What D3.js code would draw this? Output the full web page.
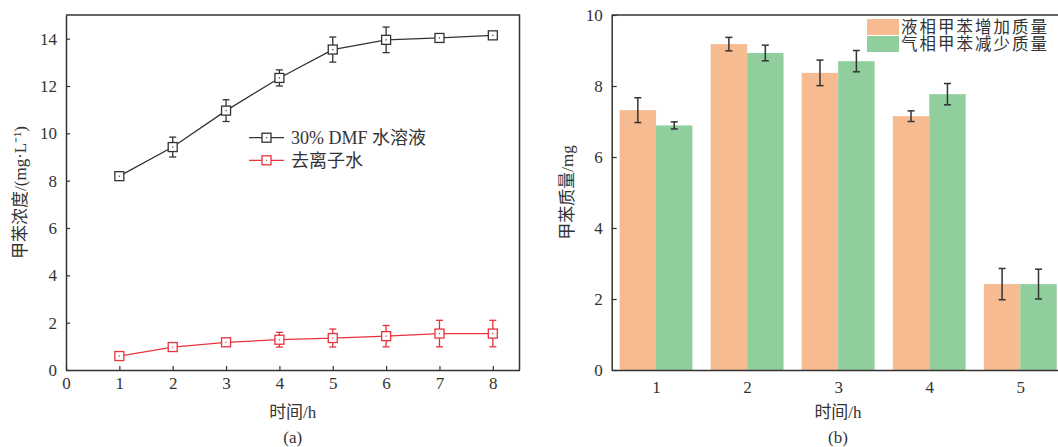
<!DOCTYPE html>
<html>
  <head>
    <meta charset="utf-8" />
    <script src="https://d3js.org/d3.v7.min.js"></script>
    <style>
      body { margin: 0; background: #fff; }
      text { font-family: "Liberation Serif", "Noto Sans CJK SC", serif; fill: #333; }
      .cjk { font-family: "Liberation Serif", "Noto Sans CJK SC", sans-serif; }
    </style>
  </head>
  <body>
    <div id="chart"></div>
    <script>
      // panel (a): toluene concentration over time
      const hoursA = [1, 2, 3, 4, 5, 6, 7, 8];
      const dmf = [8.19, 9.42, 10.96, 12.34, 13.54, 13.95, 14.03, 14.14];
      const dmfErr = [0.1, 0.42, 0.46, 0.34, 0.53, 0.54, 0.08, 0.08];
      const water = [0.59, 0.97, 1.17, 1.28, 1.35, 1.43, 1.54, 1.54];
      const waterErr = [0.08, 0.08, 0.1, 0.31, 0.38, 0.45, 0.56, 0.56];
      const xTicksA = [0, 1, 2, 3, 4, 5, 6, 7, 8];
      const yTicksA = [0, 2, 4, 6, 8, 10, 12, 14];
      const seriesNames = ["30% DMF 水溶液", "去离子水"];

      // panel (b): toluene mass
      const groups = [1, 2, 3, 4, 5];
      const liquidGain = [7.32, 9.18, 8.37, 7.15, 2.42];
      const liquidErr = [0.35, 0.19, 0.36, 0.15, 0.44];
      const gasLoss = [6.89, 8.93, 8.7, 7.77, 2.42];
      const gasErr = [0.1, 0.22, 0.3, 0.3, 0.42];
      const yTicksB = [0, 2, 4, 6, 8, 10];
      const barNames = ["液相甲苯增加质量", "气相甲苯减少质量"];

      const W = 1058, H = 447;
      const axisColor = "#333";
      const black = "#333", red = "#e8333b";
      const orange = "#f6bb91", green = "#91ce9d";

      const svg = d3.select("#chart").append("svg")
        .attr("width", W).attr("height", H);

      // ---------- panel (a) ----------
      const a = { left: 66, top: 15, right: 519.5, bottom: 370 };
      const xA = d3.scaleLinear().domain([0, 8.5]).range([a.left, a.right]);
      const yA = d3.scaleLinear().domain([0, 15]).range([a.bottom, a.top]);

      const gA = svg.append("g");

      gA.append("g")
        .attr("transform", `translate(0,${a.bottom})`)
        .call(d3.axisBottom(xA).tickValues(xTicksA).tickSizeInner(-4).tickSizeOuter(0).tickPadding(7))
        .call(styleAxis);
      gA.append("g")
        .attr("transform", `translate(${a.left},0)`)
        .call(d3.axisLeft(yA).tickValues(yTicksA).tickSizeInner(-4).tickSizeOuter(0).tickPadding(9))
        .call(styleAxis);

      // frame top + right
      gA.append("path")
        .attr("d", `M${a.left},${a.top}H${a.right}V${a.bottom}`)
        .attr("fill", "none").attr("stroke", axisColor).attr("stroke-width", 1.5);

      const seriesA = [
        { values: dmf, err: dmfErr, color: black },
        { values: water, err: waterErr, color: red },
      ];

      seriesA.forEach((s) => {
        const pts = hoursA.map((h, i) => ({ h, v: s.values[i], e: s.err[i] }));
        const g = gA.append("g");
        g.append("path")
          .datum(pts)
          .attr("fill", "none")
          .attr("stroke", s.color)
          .attr("stroke-width", 1.3)
          .attr("d", d3.line().x((d) => xA(d.h)).y((d) => yA(d.v)));

        const eb = g.selectAll(".eb").data(pts).join("g").attr("class", "eb")
          .attr("stroke", s.color).attr("stroke-width", 1.3);
        eb.append("line")
          .attr("x1", (d) => xA(d.h)).attr("x2", (d) => xA(d.h))
          .attr("y1", (d) => yA(d.v - d.e)).attr("y2", (d) => yA(d.v + d.e));
        eb.append("line")
          .attr("x1", (d) => xA(d.h) - 3.5).attr("x2", (d) => xA(d.h) + 3.5)
          .attr("y1", (d) => yA(d.v + d.e)).attr("y2", (d) => yA(d.v + d.e));
        eb.append("line")
          .attr("x1", (d) => xA(d.h) - 3.5).attr("x2", (d) => xA(d.h) + 3.5)
          .attr("y1", (d) => yA(d.v - d.e)).attr("y2", (d) => yA(d.v - d.e));

        g.selectAll(".mk").data(pts).join("g").attr("class", "mk")
          .each(function (d) {
            marker(d3.select(this), xA(d.h), yA(d.v), s.color);
          });
      });

      // legend (a)
      seriesA.forEach((s, i) => {
        const ly = 137.7 + i * 22.6;
        const lg = gA.append("g");
        lg.append("line")
          .attr("x1", 249).attr("x2", 284).attr("y1", ly).attr("y2", ly)
          .attr("stroke", s.color).attr("stroke-width", 1.3);
        marker(lg, 266.5, ly, s.color);
        lg.append("text")
          .attr("class", "cjk")
          .attr("x", 291).attr("y", ly).attr("dy", "0.35em")
          .style("font-size", "18px")
          .text(seriesNames[i]);
      });

      gA.append("text")
        .attr("class", "cjk")
        .attr("x", (a.left + a.right) / 2).attr("y", 418)
        .attr("text-anchor", "middle").style("font-size", "17px")
        .text("时间/h");
      gA.append("text")
        .attr("x", (a.left + a.right) / 2).attr("y", 443)
        .attr("text-anchor", "middle").style("font-size", "17px")
        .text("(a)");
      gA.append("text")
        .attr("class", "cjk")
        .attr("transform", `translate(26,${(a.top + a.bottom) / 2}) rotate(-90)`)
        .attr("text-anchor", "middle").style("font-size", "17px")
        .text("甲苯浓度/(mg·L⁻¹)");

      // ---------- panel (b) ----------
      const b = { left: 611.7, top: 15, right: 1058, bottom: 370 };
      const xB = d3.scaleLinear().domain([0.513, 5.414]).range([b.left, b.right]);
      const yB = d3.scaleLinear().domain([0, 10]).range([b.bottom, b.top]);
      const barW = 0.4;

      const gB = svg.append("g");

      const seriesB = [
        { values: liquidGain, err: liquidErr, color: orange, off: -barW },
        { values: gasLoss, err: gasErr, color: green, off: 0 },
      ];

      seriesB.forEach((s) => {
        const pts = groups.map((c, i) => ({ c, v: s.values[i], e: s.err[i] }));
        gB.append("g").selectAll("rect").data(pts).join("rect")
          .attr("x", (d) => xB(d.c + s.off))
          .attr("width", (d) => xB(d.c + s.off + barW) - xB(d.c + s.off))
          .attr("y", (d) => yB(d.v))
          .attr("height", (d) => yB(0) - yB(d.v))
          .attr("fill", s.color);
      });

      seriesB.forEach((s) => {
        const pts = groups.map((c, i) => ({ c, v: s.values[i], e: s.err[i] }));
        const eb = gB.append("g").selectAll("g").data(pts).join("g")
          .attr("stroke", "#333").attr("stroke-width", 1.5);
        const cx = (d) => xB(d.c + s.off + barW / 2);
        eb.append("line")
          .attr("x1", cx).attr("x2", cx)
          .attr("y1", (d) => yB(d.v - d.e)).attr("y2", (d) => yB(d.v + d.e));
        eb.append("line")
          .attr("x1", (d) => cx(d) - 3.5).attr("x2", (d) => cx(d) + 3.5)
          .attr("y1", (d) => yB(d.v + d.e)).attr("y2", (d) => yB(d.v + d.e));
        eb.append("line")
          .attr("x1", (d) => cx(d) - 3.5).attr("x2", (d) => cx(d) + 3.5)
          .attr("y1", (d) => yB(d.v - d.e)).attr("y2", (d) => yB(d.v - d.e));
      });

      gB.append("g")
        .attr("transform", `translate(0,${b.bottom})`)
        .call(d3.axisBottom(xB).tickValues(groups).tickFormat(d3.format("d")).tickSize(0).tickPadding(11))
        .call(styleAxis);
      gB.append("g")
        .attr("transform", `translate(${b.left},0)`)
        .call(d3.axisLeft(yB).tickValues(yTicksB).tickSizeInner(-5).tickSizeOuter(0).tickPadding(9))
        .call(styleAxis);
      gB.append("path")
        .attr("d", `M${b.left},${b.top}H${b.right}`)
        .attr("fill", "none").attr("stroke", axisColor).attr("stroke-width", 1.5);

      // legend (b)
      seriesB.forEach((s, i) => {
        const ly = 19 + i * 17;
        gB.append("rect")
          .attr("x", 867).attr("y", ly).attr("width", 32).attr("height", 16)
          .attr("fill", s.color);
        gB.append("text")
          .attr("class", "cjk")
          .attr("x", 901).attr("y", ly + 8).attr("dy", "0.36em")
          .style("font-size", "16.5px")
          .style("letter-spacing", "2px")
          .text(barNames[i]);
      });

      gB.append("text")
        .attr("class", "cjk")
        .attr("x", 838).attr("y", 418)
        .attr("text-anchor", "middle").style("font-size", "17px")
        .text("时间/h");
      gB.append("text")
        .attr("x", 838).attr("y", 443)
        .attr("text-anchor", "middle").style("font-size", "17px")
        .text("(b)");
      gB.append("text")
        .attr("class", "cjk")
        .attr("transform", `translate(573,${(b.top + b.bottom) / 2}) rotate(-90)`)
        .attr("text-anchor", "middle").style("font-size", "17px")
        .text("甲苯质量/mg");

      function styleAxis(g) {
        g.select(".domain").attr("stroke", axisColor).attr("stroke-width", 1.5);
        g.selectAll(".tick line").attr("stroke", axisColor).attr("stroke-width", 1.2);
        g.selectAll(".tick text")
          .attr("fill", "#333")
          .style("font-family", "Liberation Serif, serif")
          .style("font-size", "17px");
      }

      function marker(sel, x, y, color) {
        sel.append("rect")
          .attr("x", x - 4.5).attr("y", y - 4.5).attr("width", 9).attr("height", 9)
          .attr("fill", "#fff").attr("stroke", color).attr("stroke-width", 1.3);
        sel.append("rect")
          .attr("x", x - 0.6).attr("y", y - 0.6).attr("width", 1.2).attr("height", 1.2)
          .attr("fill", color);
      }
    </script>
  </body>
</html>
